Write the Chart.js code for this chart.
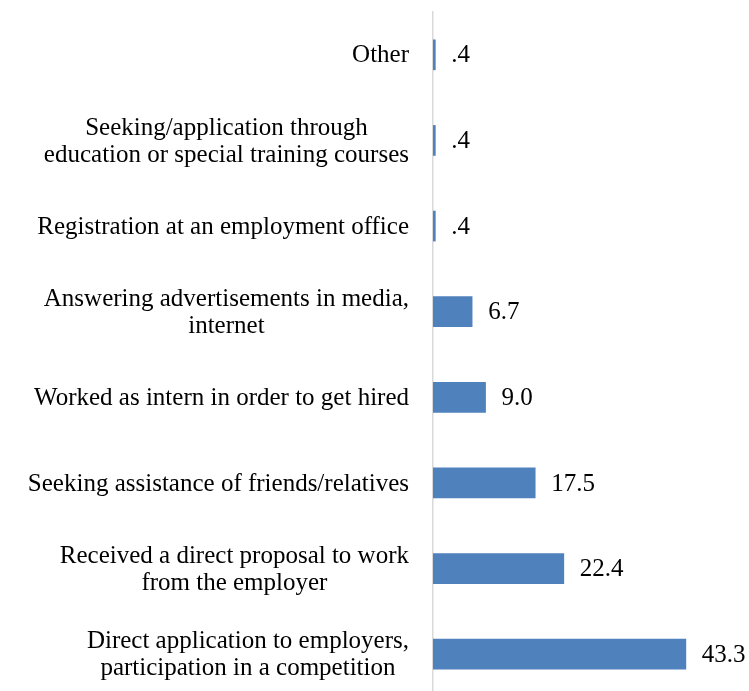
<!DOCTYPE html>
<html lang="en">
<head>
    <meta charset="UTF-8">
    <title>Job search methods</title>
    <style>
        body {
            margin: 0;
            padding: 0;
            background: #fff;
            overflow: hidden;
        }
        .chart-container {
            position: relative;
            width: 749px;
            height: 697px;
        }
    </style>
    <script src="https://cdn.jsdelivr.net/npm/chart.js"></script>
</head>
<body>
    <div class="chart-container">
        <canvas id="methodsChart"></canvas>
    </div>
    <script>
        // categories, top to bottom (multi-line labels as arrays)
        const methods = [
            "Other",
            ["Seeking/application through", "education or special training courses"],
            "Registration at an employment office",
            ["Answering advertisements in media,", "internet"],
            "Worked as intern in order to get hired",
            "Seeking assistance of friends/relatives",
            ["Received a direct proposal to work", "from the employer"],
            ["Direct application to employers,", "participation in a competition"]
        ];
        const shares = [0.4, 0.4, 0.4, 6.7, 9.0, 17.5, 22.4, 43.3];

        const FONT = "'Liberation Serif', 'Times New Roman', serif";
        const FONT_SIZE = 25;
        const LINE_GAP = 27;

        function formatValue(v) {
            return v.toFixed(1).replace(/^0\./, ".");
        }

        // category labels: each block right-aligned to the axis, its lines centred
        const categoryLabels = {
            id: "categoryLabels",
            afterDraw(chart) {
                const ctx = chart.ctx;
                const yScale = chart.scales.y;
                const right = chart.chartArea.left - 24;
                ctx.save();
                ctx.font = FONT_SIZE + "px " + FONT;
                ctx.fillStyle = "#000";
                ctx.textAlign = "center";
                ctx.textBaseline = "middle";
                methods.forEach((label, i) => {
                    const lines = Array.isArray(label) ? label : [label];
                    const widest = Math.max(...lines.map(l => ctx.measureText(l).width));
                    const cx = right - widest / 2;
                    const cy = yScale.getPixelForTick(i);
                    const first = cy - (lines.length - 1) * LINE_GAP / 2;
                    lines.forEach((line, j) => {
                        ctx.fillText(line, cx, first + j * LINE_GAP + 1);
                    });
                });
                ctx.restore();
            }
        };

        // value text to the right of each bar
        const valueLabels = {
            id: "valueLabels",
            afterDatasetsDraw(chart) {
                const ctx = chart.ctx;
                const meta = chart.getDatasetMeta(0);
                ctx.save();
                ctx.font = FONT_SIZE + "px " + FONT;
                ctx.fillStyle = "#000";
                ctx.textAlign = "left";
                ctx.textBaseline = "middle";
                meta.data.forEach((bar, i) => {
                    ctx.fillText(formatValue(shares[i]), bar.x + 16, bar.y + 1);
                });
                ctx.restore();
            }
        };

        const ctx = document.getElementById("methodsChart").getContext("2d");
        new Chart(ctx, {
            type: "bar",
            data: {
                labels: methods,
                datasets: [{
                    data: shares,
                    backgroundColor: "#4f81bd",
                    borderWidth: 0,
                    barThickness: 30
                }]
            },
            plugins: [valueLabels, categoryLabels],
            options: {
                indexAxis: "y",
                responsive: true,
                maintainAspectRatio: false,
                animation: false,
                layout: {
                    padding: { top: 12, right: 24, bottom: 0, left: 0 }
                },
                plugins: {
                    legend: { display: false },
                    tooltip: { enabled: false }
                },
                scales: {
                    x: {
                        display: false,
                        min: 0,
                        max: 50
                    },
                    y: {
                        grid: { display: false, drawTicks: false },
                        border: { display: true, color: "#d9d9d9", width: 1.5 },
                        ticks: { display: false },
                        afterFit(scale) {
                            scale.width = 433;
                        }
                    }
                }
            }
        });
    </script>
</body>
</html>
